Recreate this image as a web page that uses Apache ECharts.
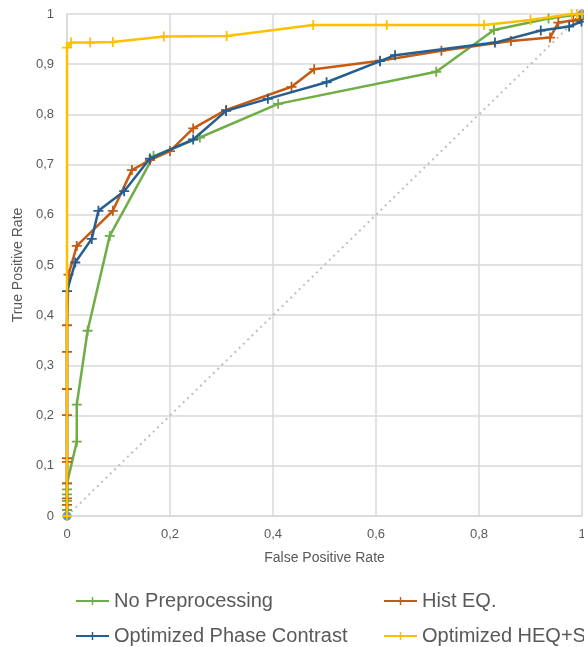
<!DOCTYPE html>
<html>
<head>
<meta charset="utf-8">
<script src="https://cdn.jsdelivr.net/npm/echarts@6/dist/echarts.min.js"></script>
<style>
html,body{margin:0;padding:0;background:#fff;overflow:hidden;}
#chart{width:584px;height:647px;}
</style>
</head>
<body>
<div id="chart"></div>
<script>
// ---- Data ----
const seriesNames = ['No Preprocessing', 'Hist EQ.', 'Optimized Phase Contrast', 'Optimized HEQ+S'];

const noPreFPR = [0, 0, 0, 0, 0, 0, 0.019, 0.019, 0.040, 0.083, 0.168, 0.258, 0.410, 0.717, 0.829, 0.935, 1];
const noPreTPR = [0, 0.012, 0.030, 0.043, 0.053, 0.065, 0.148, 0.222, 0.369, 0.558, 0.717, 0.754, 0.821, 0.885, 0.968, 0.991, 1];

const histFPR = [0, 0, 0, 0, 0, 0, 0, 0, 0, 0, 0.003, 0.019, 0.089, 0.126, 0.161, 0.200, 0.245, 0.309, 0.436, 0.480, 0.608, 0.727, 0.862, 0.938, 0.954, 0.983, 0.996, 1];
const histTPR = [0, 0.022, 0.035, 0.065, 0.108, 0.115, 0.201, 0.253, 0.327, 0.380, 0.481, 0.538, 0.608, 0.689, 0.709, 0.727, 0.772, 0.809, 0.855, 0.890, 0.907, 0.927, 0.946, 0.953, 0.983, 0.987, 0.990, 1];

const phaseFPR = [0, 0, 0.016, 0.048, 0.061, 0.111, 0.161, 0.245, 0.309, 0.390, 0.504, 0.608, 0.637, 0.831, 0.920, 0.975, 0.999, 1];
const phaseTPR = [0, 0.448, 0.505, 0.552, 0.608, 0.647, 0.712, 0.750, 0.807, 0.831, 0.864, 0.906, 0.918, 0.943, 0.967, 0.975, 0.985, 1];

const heqsFPR = [0, 0, 0.008, 0.045, 0.089, 0.188, 0.310, 0.478, 0.621, 0.810, 0.900, 0.980, 0.990, 1];
const heqsTPR = [0, 0.933, 0.943, 0.943, 0.944, 0.955, 0.956, 0.978, 0.978, 0.978, 0.988, 1, 1, 1];

const chanceFPR = [0, 1];
const chanceTPR = [0, 1];

const xTicks = [0, 0.2, 0.4, 0.6, 0.8, 1];
const yTicks = [0, 0.1, 0.2, 0.3, 0.4, 0.5, 0.6, 0.7, 0.8, 0.9, 1];

// ---- Build ----
const pairs = (xs, ys) => xs.map((x, i) => [x, ys[i]]);
const colors = ['#70AD47', '#C55A11', '#255E91', '#FFC000'];
const plus = 'path://M4.1,0H5.9V4.1H10V5.9H5.9V10H4.1V5.9H0V4.1H4.1Z';
const fmt = v => String(+(+v).toFixed(1)).replace('.', ',');
const FONT = 'Liberation Sans';

function lineSeries(name, xs, ys, color, z) {
  return {
    name, type: 'line', data: pairs(xs, ys), clip: false, z,
    symbol: plus, symbolSize: 10, showAllSymbol: true,
    lineStyle: { color, width: 2.5 },
    itemStyle: { color },
    emphasis: { disabled: true },
    animation: false
  };
}

const chart = echarts.init(document.getElementById('chart'), null, { renderer: 'canvas' });
const legendBase = {
  padding: 0, itemWidth: 33, itemHeight: 10, itemGap: 4,
  textStyle: { fontFamily: FONT, fontSize: 20, color: '#595959', padding: [0, 0, 0, 0] },
  selectedMode: false
};
chart.setOption({
  animation: false,
  backgroundColor: '#fff',
  grid: { left: 67, right: 2, top: 14, bottom: 131, containLabel: false, outerBoundsMode: 'none' },
  xAxis: {
    type: 'value', min: 0, max: 1, interval: 0.2,
    name: 'False Positive Rate', nameLocation: 'middle', nameGap: 35,
    nameTextStyle: { fontFamily: FONT, fontSize: 14, color: '#595959' },
    axisLine: { show: true, lineStyle: { color: '#D9D9D9', width: 1.5 } },
    axisTick: { show: false },
    axisLabel: { fontFamily: FONT, fontSize: 13, color: '#595959', margin: 12, formatter: fmt,
      customValues: xTicks },
    splitLine: { show: true, lineStyle: { color: '#D9D9D9', width: 1.5 } }
  },
  yAxis: {
    type: 'value', min: 0, max: 1, interval: 0.1,
    name: 'True Positive Rate', nameLocation: 'middle', nameGap: 38,
    nameTextStyle: { fontFamily: FONT, fontSize: 14, color: '#595959' },
    axisLine: { show: true, lineStyle: { color: '#D9D9D9', width: 1.5 } },
    axisTick: { show: false },
    axisLabel: { fontFamily: FONT, fontSize: 13, color: '#595959', margin: 13, formatter: fmt,
      customValues: yTicks },
    splitLine: { show: true, lineStyle: { color: '#D9D9D9', width: 1.5 } }
  },
  legend: [
    Object.assign({ data: [seriesNames[0]], left: 75, top: 591 }, legendBase),
    Object.assign({ data: [seriesNames[1]], left: 383, top: 591 }, legendBase),
    Object.assign({ data: [seriesNames[2]], left: 75, top: 626 }, legendBase),
    Object.assign({ data: [seriesNames[3]], left: 383, top: 626 }, legendBase)
  ],
  series: [
    {
      name: 'chance', type: 'line', data: pairs(chanceFPR, chanceTPR), clip: false, z: 1,
      symbol: 'circle', symbolSize: 9, showAllSymbol: true,
      lineStyle: { color: '#BFBFBF', width: 2, type: [2, 4] },
      itemStyle: { color: '#5B9BD5' },
      emphasis: { disabled: true }
    },
    lineSeries(seriesNames[0], noPreFPR, noPreTPR, colors[0], 2),
    lineSeries(seriesNames[1], histFPR, histTPR, colors[1], 3),
    lineSeries(seriesNames[2], phaseFPR, phaseTPR, colors[2], 4),
    lineSeries(seriesNames[3], heqsFPR, heqsTPR, colors[3], 5)
  ]
});
</script>
</body>
</html>
